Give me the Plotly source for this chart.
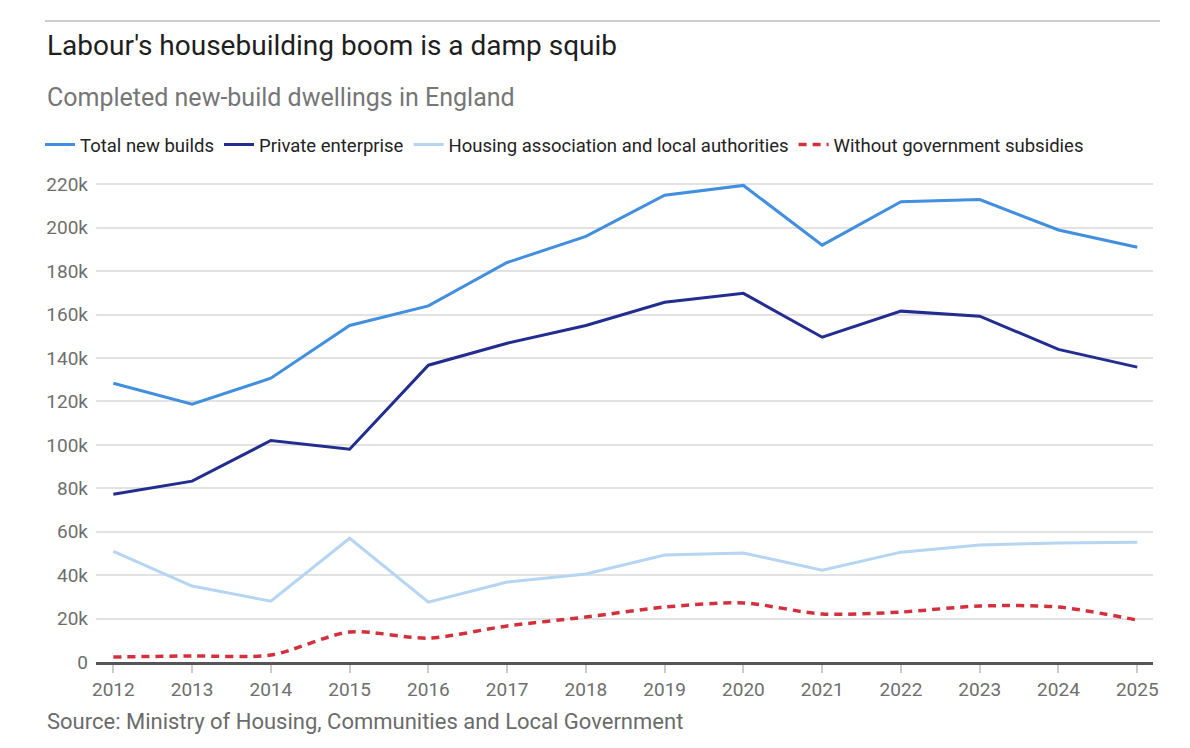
import plotly.graph_objects as go

years = list(range(2012, 2026))
total_new_builds = [128400, 118700, 130700, 155000, 164000, 184000, 196000, 215000, 219500, 192000, 212000, 213000, 199000, 191000]
private_enterprise = [77300, 83300, 102000, 98000, 136700, 146800, 155000, 165700, 169800, 149600, 161600, 159300, 144000, 135800]
housing_assoc_la = [51000, 35000, 28000, 57000, 27600, 36800, 40500, 49300, 50200, 42300, 50600, 53900, 54800, 55200]
without_subsidies = [2300, 2800, 3200, 13800, 11000, 16600, 20700, 25300, 27200, 22100, 23000, 25800, 25300, 19300]

y_tick_vals = [0, 20000, 40000, 60000, 80000, 100000, 120000, 140000, 160000, 180000, 200000, 220000]
y_tick_text = ["0", "20k", "40k", "60k", "80k", "100k", "120k", "140k", "160k", "180k", "200k", "220k"]

title_text = "Labour's housebuilding boom is a damp squib"
subtitle_text = "Completed new-build dwellings in England"
source_text = "Source: Ministry of Housing, Communities and Local Government"

NARROW = "Roboto"
SANS = "Roboto"

fig = go.Figure()
fig.add_trace(go.Scatter(x=years, y=total_new_builds, mode="lines", name="Total new builds",
                         line=dict(color="#418fde", width=3)))
fig.add_trace(go.Scatter(x=years, y=private_enterprise, mode="lines", name="Private enterprise",
                         line=dict(color="#222d8f", width=3)))
fig.add_trace(go.Scatter(x=years, y=housing_assoc_la, mode="lines", name="Housing association and local authorities",
                         line=dict(color="#b5d5f2", width=3)))
fig.add_trace(go.Scatter(x=years, y=without_subsidies, mode="lines", name="Without government subsidies",
                         line=dict(color="#d3303d", width=3.5, dash="8px,6px", shape="spline", smoothing=0.8)))

PH = 482.0
PW = 1057.0
def py(px):
    return (662 - px) / PH
def pxr(px):
    return (px - 96) / PW

fig.update_layout(
    width=1190, height=748,
    margin=dict(l=96, r=37, t=180, b=86),
    paper_bgcolor="white", plot_bgcolor="white",
    showlegend=True,
    legend=dict(orientation="h", x=pxr(40), xanchor="left", y=py(145), yanchor="middle",
                font=dict(family=NARROW, size=18.5, color="#222222"),
                itemwidth=30, traceorder="normal", bgcolor="rgba(0,0,0,0)"),
    xaxis=dict(range=[2011.78, 2025.2], tickmode="array", tickvals=years,
               ticktext=[str(y) for y in years], showgrid=False, zeroline=False,
               showline=True, linecolor="#555555", linewidth=2.5,
               ticks="outside", ticklen=8, tickwidth=1.5, tickcolor="#cccccc",
               tickfont=dict(family=NARROW, size=19, color="#6e6e6e")),
    yaxis=dict(range=[0, 222000], tickmode="array", tickvals=y_tick_vals, ticktext=y_tick_text,
               showgrid=True, gridcolor="#e2e2e2", gridwidth=1.5, zeroline=False,
               showline=False, ticks="", ticklabelstandoff=7,
               tickfont=dict(family=NARROW, size=19, color="#6e6e6e")),
    annotations=[
        dict(text=title_text, xref="paper", yref="paper", x=pxr(45), y=py(45), xanchor="left",
             yanchor="middle", showarrow=False, font=dict(family=SANS, size=28, color="#1e1e1e")),
        dict(text=subtitle_text, xref="paper", yref="paper", x=pxr(45), y=py(98), xanchor="left",
             yanchor="middle", showarrow=False, font=dict(family=SANS, size=25, color="#767676")),
        dict(text=source_text, xref="paper", yref="paper", x=pxr(45), y=py(721), xanchor="left",
             yanchor="middle", showarrow=False, font=dict(family=SANS, size=22, color="#6b6b6b")),
    ],
    shapes=[dict(type="line", xref="paper", yref="paper", x0=pxr(45), x1=pxr(1160), y0=py(21), y1=py(21),
                 line=dict(color="#bdbdbd", width=1.5))],
)

fig.write_html("out.html")
